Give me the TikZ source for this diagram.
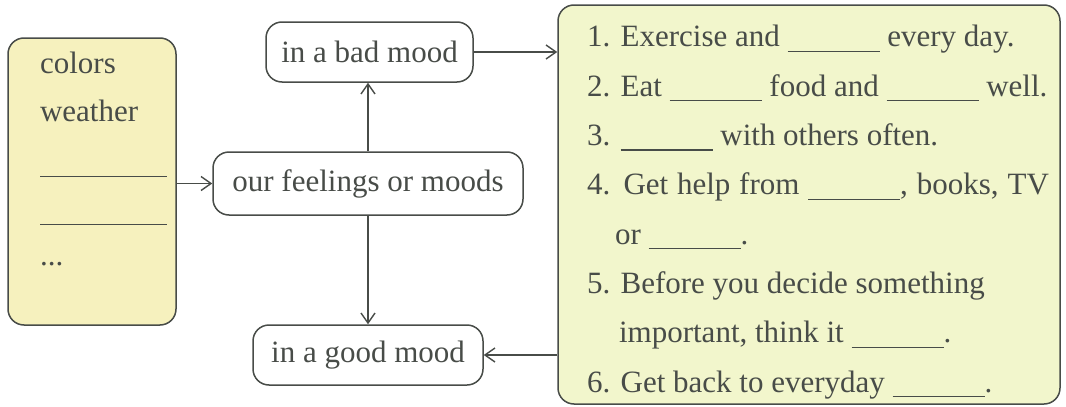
\documentclass[tikz,border=0pt]{standalone}
\usepackage{fontspec}
\setmainfont{Liberation Serif}
\usetikzlibrary{arrows.meta}
\usetikzlibrary{positioning}
\definecolor{inkgray}{RGB}{72,76,72}
\definecolor{cuefill}{RGB}{246,241,190}
\definecolor{tipfill}{RGB}{242,246,204}
\tikzset{mood/.style = {draw = inkgray, line width = 0.75pt, rounded corners = 8pt, inner sep = 0, minimum height = 30pt, text = inkgray}}
\tikzset{panel/.style = {draw = inkgray, line width = 0.75pt, rounded corners = 8pt, inner sep = 0}}
\tikzset{link/.style = {draw = inkgray, line width = 0.7pt, -{Straight Barb[length = 5pt, width = 7pt]}}}
\newcommand{\blank}[1][46pt]{\rule[-2.5pt]{#1}{0.6pt}}

\begin{document}
\begin{tikzpicture}[x = 0.5pt, y = -0.5pt, font = \rmfamily\fontsize{15.5}{24.65}\selectfont]
  \useasboundingbox (0, 0) rectangle (1066, 407);

  \node [panel, fill = cuefill, minimum width = 84pt, minimum height = 143.5pt] (causes) at (92, 181.5) {};
  \node [anchor = base west, align = left, text = inkgray, font = \rmfamily\fontsize{15.5}{24}\selectfont] (causelist) at (33, 265)
    {colors\\weather\\\rule[-4pt]{63.5pt}{0.6pt}\\\rule[-4pt]{63.5pt}{0.6pt}\\...};

  \node [mood, minimum width = 155pt, minimum height = 31.5pt] (feelings) at (368, 183.5) {our feelings or moods};
  \node [mood, minimum width = 103.5pt] (bad) at (369.5, 52) {in a bad mood};
  \node [mood, minimum width = 115pt] (good) at (368, 355) {in a good mood};

  \node [panel, fill = tipfill, minimum width = 251pt, minimum height = 199.5pt] (tips) at (809, 204.5) {};
  \node [anchor = base west, align = left, text = inkgray] (tiplist) at (580, 392)
    {1. Exercise and \blank{} every day.\\
     2. Eat \blank{} food and \blank{} well.\\
     3. \blank{} with others often.\\
     \makebox[231pt][s]{4. Get help from \blank, books, TV}\\
     \hspace*{14pt}or \blank.\\
     5. Before you decide something\\
     \hspace*{16pt}important, think it \blank.\\
     6. Get back to everyday \blank.};

  \draw [link] (causes.east |- feelings.west) -- (feelings.west);
  \draw [link] (feelings.north) -- (feelings.north |- bad.south);
  \draw [link] (feelings.south) -- (good.north);
  \draw [link] (bad.east) -- (bad.east -| tips.west);
  \draw [link] (tips.west |- good.east) -- (good.east);
\end{tikzpicture}
\end{document}
